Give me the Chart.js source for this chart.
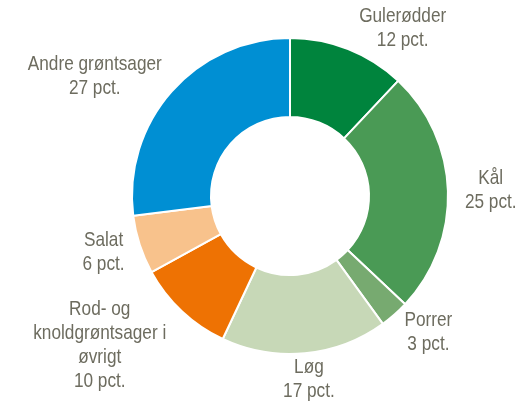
<!DOCTYPE html>
<html>
<head>
<meta charset="utf-8">
<script src="https://cdn.jsdelivr.net/npm/chart.js@4/dist/chart.umd.min.js"></script>
<style>
  html, body { margin: 0; padding: 0; background: #fff; }
  #wrap { width: 531px; height: 403px; }
</style>
</head>
<body>
<div id="wrap"><canvas id="myChart"></canvas></div>
<script>
// data

const categories = [
  'Gulerødder',
  'Kål',
  'Porrer',
  'Løg',
  ['Rod- og', 'knoldgrøntsager i', 'øvrigt'],
  'Salat',
  'Andre grøntsager',
];
const shares = [12, 25, 3, 17, 10, 6, 27];
const colors = ['#00843d', '#4a9a55', '#77aa70', '#c7d8b7', '#ee7203', '#f8c28c', '#008fd3'];

// no narrow font installed, so squeeze a regular one sideways
const labelFont = '21px "Liberation Sans", Arial, sans-serif';
const squeeze = 0.82;
const lineHeight = 24;

// labels outside the ring: put on a wide ellipse at the arc's middle angle,
// then slide away if the box still cuts into the ring
const outsideLabels = {
  id: 'outsideLabels',
  afterDatasetsDraw(chart) {
    const ctx = chart.ctx;
    const meta = chart.getDatasetMeta(0);
    ctx.save();
    ctx.font = labelFont;
    ctx.fillStyle = '#6d6c5f';
    ctx.textAlign = 'center';
    ctx.textBaseline = 'middle';
    meta.data.forEach((arc, i) => {
      const name = categories[i];
      const lines = (Array.isArray(name) ? name : [name]).concat(shares[i] + ' pct.');
      const w = Math.max(...lines.map(l => ctx.measureText(l).width)) * squeeze;
      const h = lines.length * lineHeight;
      const a = (arc.startAngle + arc.endAngle) / 2;
      const R = arc.outerRadius;
      const cos = Math.cos(a), sin = Math.sin(a);
      let cx = arc.x + (R + 17 + w / 2) * cos;
      let cy = arc.y + (R - 1 + h / 2) * sin;
      cy = Math.min(Math.max(cy, h / 2), chart.height - h / 2);

      // nearest point of the box to the centre
      const ny = Math.min(Math.max(arc.y, cy - h / 2), cy + h / 2) - arc.y;
      const nx = Math.min(Math.max(arc.x, cx - w / 2), cx + w / 2) - arc.x;
      const clear = R + 2;
      if (Math.hypot(nx, ny) < clear) {
        if (nx === 0) {
          cy = sin < 0 ? arc.y - clear - h / 2 : arc.y + clear + h / 2;
          cy = Math.min(Math.max(cy, h / 2), chart.height - h / 2);
        } else if (Math.abs(ny) < clear) {
          const need = Math.sqrt(clear * clear - ny * ny);
          cx = cos < 0 ? arc.x - need - w / 2 : arc.x + need + w / 2;
        }
      }
      cx = Math.min(Math.max(cx, w / 2 + 2), chart.width - w / 2 - 2);

      lines.forEach((l, j) => {
        ctx.save();
        ctx.translate(cx, cy - h / 2 + lineHeight * (j + 0.5));
        ctx.scale(squeeze, 1);
        ctx.fillText(l, 0, 0);
        ctx.restore();
      });
    });
    ctx.restore();
  }
};

const config = {
  type: 'doughnut',
  data: {
    labels: categories,
    datasets: [{
      data: shares,
      backgroundColor: colors,
      borderColor: '#ffffff',
      borderWidth: 2,
    }]
  },
  options: {
    responsive: true,
    maintainAspectRatio: false,
    animation: false,
    cutout: '50%',
    layout: {
      padding: { top: 36, bottom: 47, left: 131, right: 82 }
    },
    plugins: {
      legend: { display: false },
      tooltip: { enabled: false },
    }
  },
  plugins: [outsideLabels]
};

var myChart = new Chart(document.getElementById('myChart'), config);
</script>
</body>
</html>
